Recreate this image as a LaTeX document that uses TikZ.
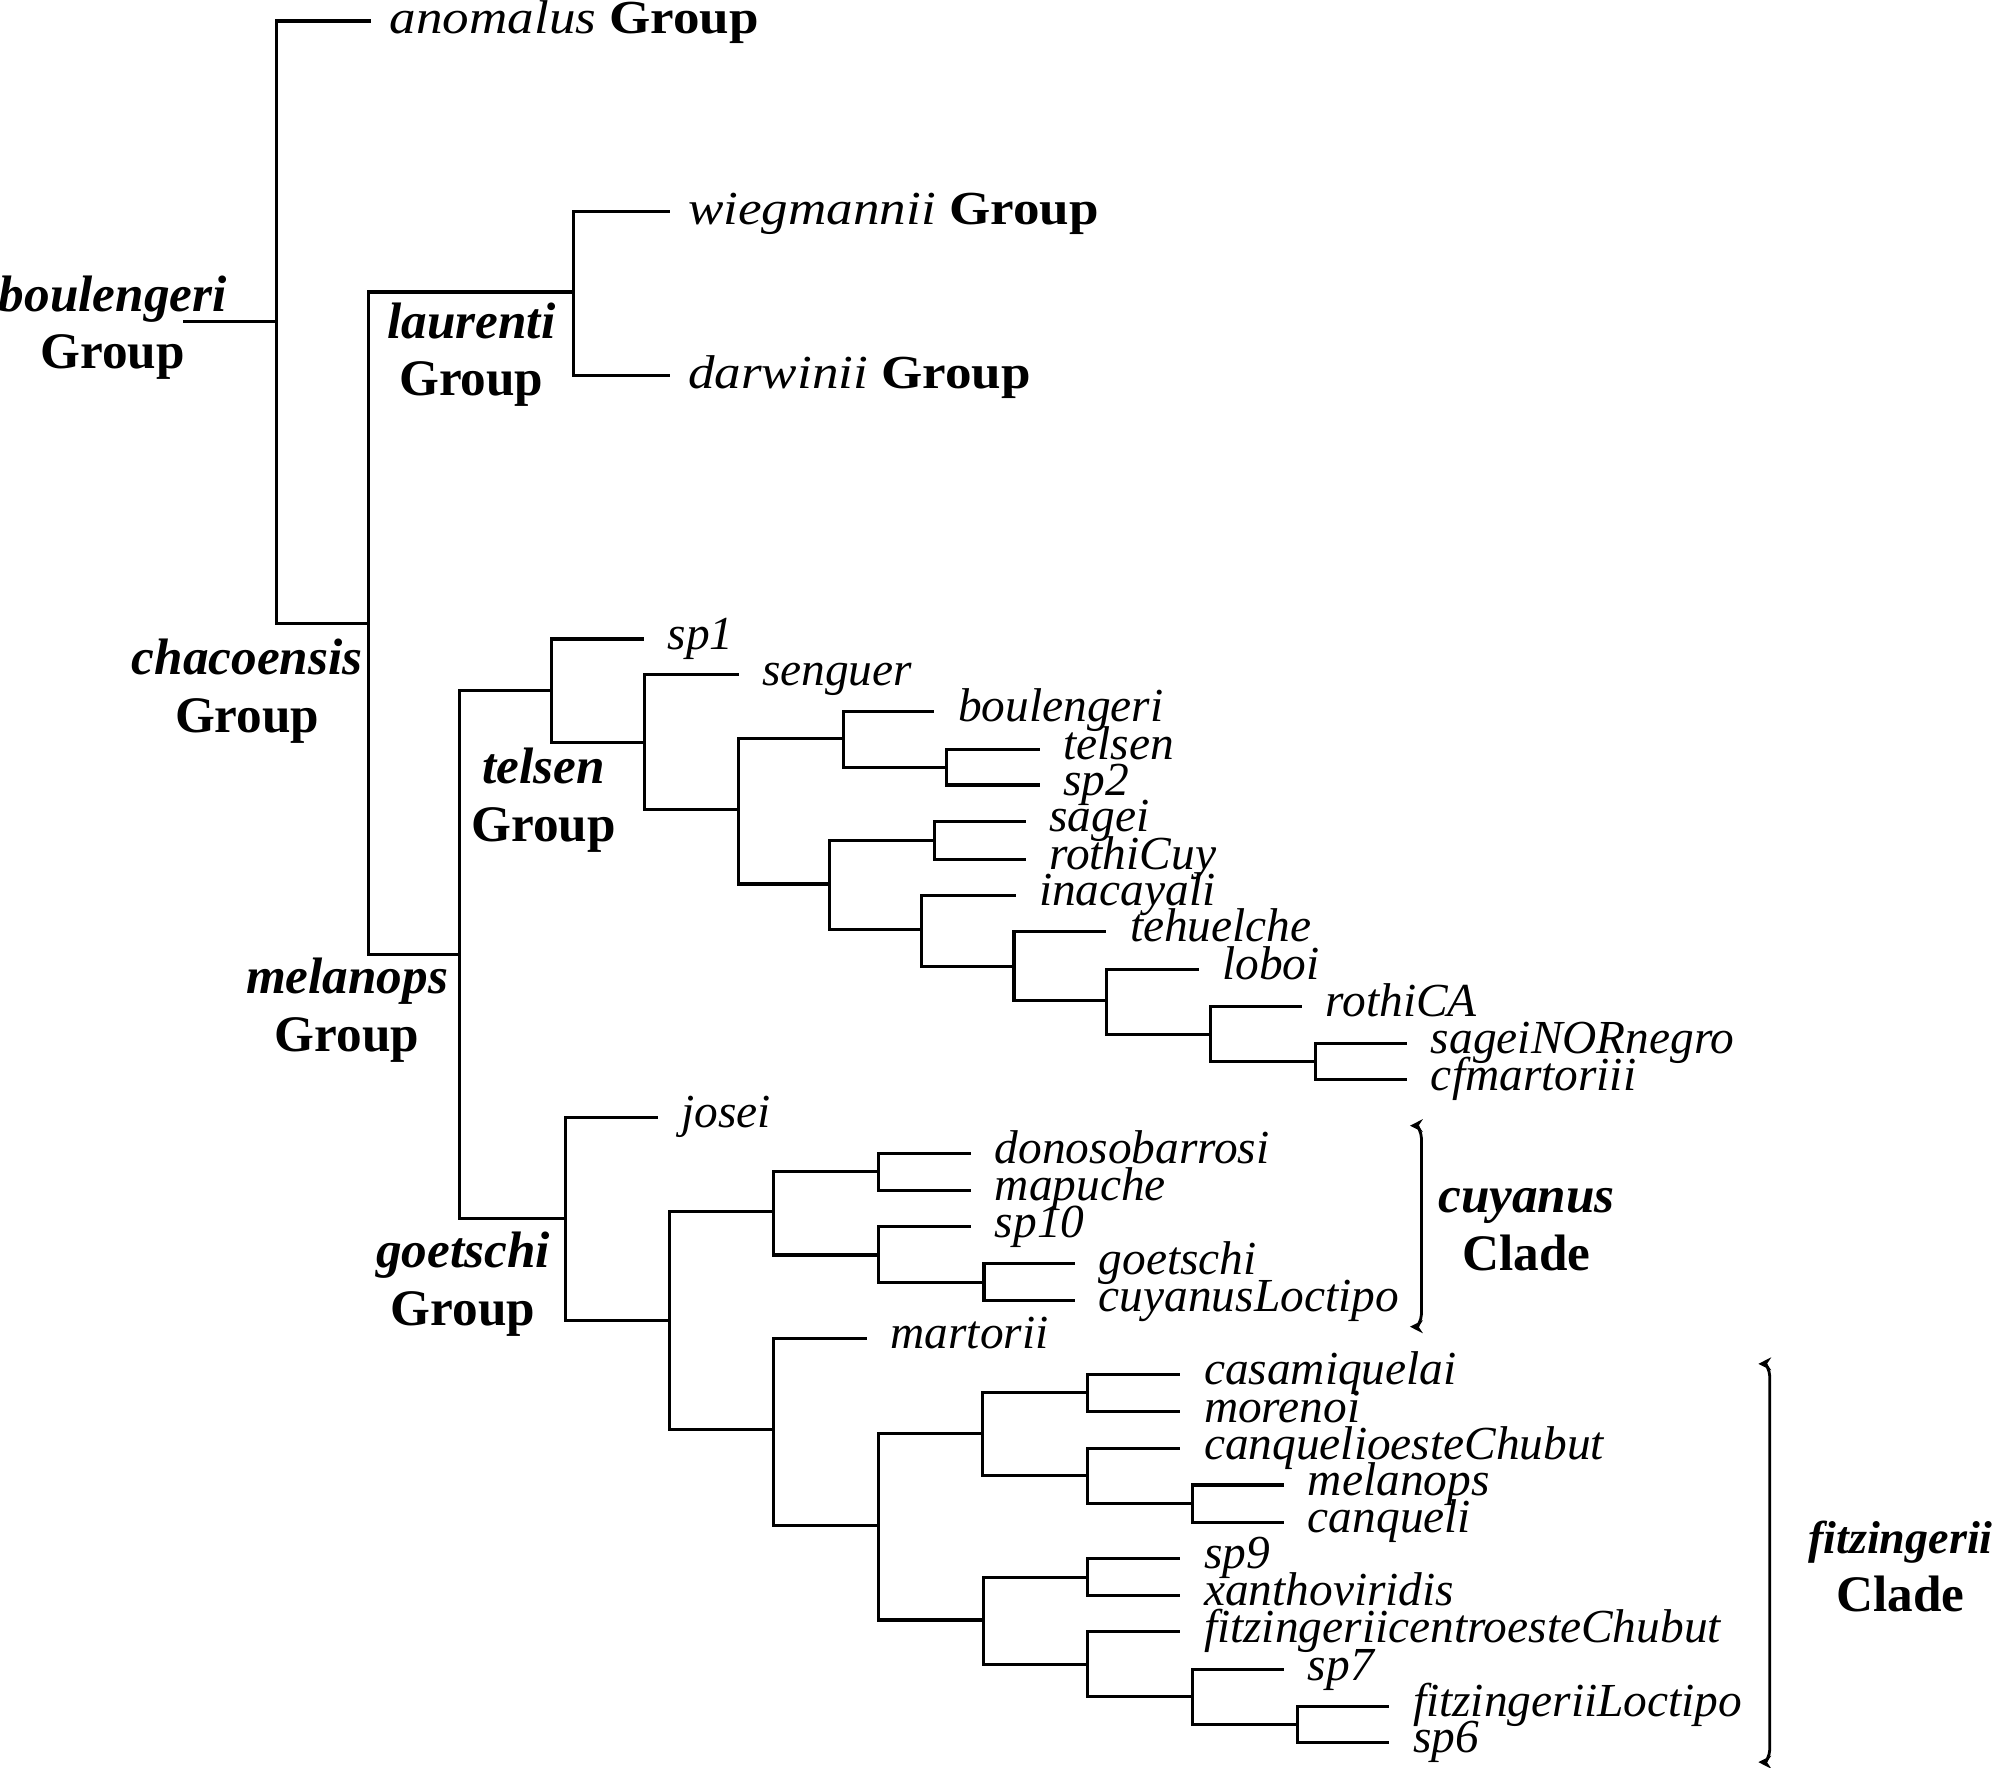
\documentclass[tikz,border=0pt]{standalone}
\usepackage{fontspec}
\setmainfont{Liberation Serif}
\newfontfamily\widefont{Liberation Serif}[FakeStretch=1.12]
\usepackage{tikz}
\usetikzlibrary{arrows.meta, positioning}

\begin{document}
\begin{tikzpicture}[x=0.5pt, y=-0.5pt,
  branch/.style={line width=1.2pt},
  leaf/.style={anchor=west, font=\fontsize{18.5}{20}\selectfont\itshape,
    inner xsep=9pt, inner ysep=0pt, text height=10pt, text depth=2pt},
  toplabel/.style={anchor=west, font=\widefont\fontsize{18.5}{22}\selectfont,
    inner xsep=7pt, inner ysep=0pt, text height=12pt, text depth=2pt},
  grouplabel/.style={anchor=base, align=center, font=\fontsize{20}{22.5}\selectfont\bfseries},
  bracket/.style={line width=1.1pt, {Stealth[length=5pt,width=5pt]}-{Stealth[length=5pt,width=5pt]}}]
  \useasboundingbox (0,0) rectangle (1568,1380);

  % Internal nodes
  \coordinate (rootstub) at (143,251);
  \coordinate (r) at (216,251);
  \coordinate (chaco) at (288,487);
  \coordinate (laur) at (448,228);
  \coordinate (melan) at (358.6,745);
  \coordinate (tels) at (431,539);
  \coordinate (nA) at (503,579.5);
  \coordinate (nB) at (576.7,632);
  \coordinate (nC) at (658.6,577);
  \coordinate (nD) at (739.3,599);
  \coordinate (nE) at (648,690.3);
  \coordinate (nF) at (729.7,656);
  \coordinate (nG) at (719.5,725.5);
  \coordinate (nH) at (791.8,754.7);
  \coordinate (nI) at (864,781);
  \coordinate (nJ) at (945.4,807.6);
  \coordinate (nK) at (1027.3,829);
  \coordinate (goet) at (441.4,951.3);
  \coordinate (nL) at (523,1031);
  \coordinate (nM) at (604,946.3);
  \coordinate (nN) at (686.3,915);
  \coordinate (nO) at (686.3,980);
  \coordinate (nP) at (768.4,1001.5);
  \coordinate (nQ) at (604,1116);
  \coordinate (nR) at (686.3,1191);
  \coordinate (nS) at (767.5,1119.7);
  \coordinate (nT) at (849,1087);
  \coordinate (nU) at (849,1152.3);
  \coordinate (nV) at (931,1174);
  \coordinate (nW) at (768,1265);
  \coordinate (nX) at (849,1232);
  \coordinate (nY) at (849,1299.7);
  \coordinate (nZ) at (931,1325);
  \coordinate (nAA) at (1013.3,1346.5);

  % Top groups
  \node[toplabel] (anomalus) at (290,16.4) {\textit{anomalus} \textbf{Group}};
  \node[toplabel] (wieg) at (523,165) {\textit{wiegmannii} \textbf{Group}};
  \node[toplabel] (darw) at (523,293) {\textit{darwinii} \textbf{Group}};

  % Terminal taxa
  \foreach \name/\x/\y in {sp1/503/499, senguer/576.7/527, boulengeri/729.7/555.6,
      telsen/812/585, sp2/812/613, sagei/801/641.6, rothiCuy/801/671,
      inacayali/793/699.4, tehuelche/864/727.4, loboi/936/757, rothiCA/1017/785.6,
      sageiNORnegro/1099/814.5, cfmartoriii/1099/843.2, josei/513.7/872.3,
      donosobarrosi/758.5/900.5, mapuche/758.5/929.4, sp10/758.5/958,
      goetschi/839.6/986.9, cuyanusLoctipo/839.6/1015.8, martorii/677/1045,
      casamiquelai/921.8/1073.2, morenoi/921.8/1102.4, canquelioesteChubut/921.8/1131.3,
      melanops/1002.9/1159.6, canqueli/1002.9/1188.8, sp9/921.8/1217,
      xanthoviridis/921.8/1245.9, fitzingeriicentroesteChubut/921.8/1274.2,
      sp7/1002.9/1304, fitzingeriiLoctipo/1085/1332.2, sp6/1085/1360.5} {
    \node[leaf] (\name) at (\x,\y) {\name};
  }

  % Branches
  \draw[branch] (rootstub) -- (r);
  \foreach \p/\c in {r/anomalus.west, r/chaco, chaco/laur, chaco/melan,
      laur/wieg.west, laur/darw.west, melan/tels, melan/goet,
      tels/sp1.west, tels/nA, nA/senguer.west, nA/nB, nB/nC, nB/nE,
      nC/boulengeri.west, nC/nD, nD/telsen.west, nD/sp2.west, nE/nF, nE/nG,
      nF/sagei.west, nF/rothiCuy.west, nG/inacayali.west, nG/nH,
      nH/tehuelche.west, nH/nI, nI/loboi.west, nI/nJ, nJ/rothiCA.west, nJ/nK,
      nK/sageiNORnegro.west, nK/cfmartoriii.west,
      goet/josei.west, goet/nL, nL/nM, nL/nQ, nM/nN, nM/nO,
      nN/donosobarrosi.west, nN/mapuche.west, nO/sp10.west, nO/nP,
      nP/goetschi.west, nP/cuyanusLoctipo.west, nQ/martorii.west, nQ/nR,
      nR/nS, nR/nW, nS/nT, nS/nU, nT/casamiquelai.west, nT/morenoi.west,
      nU/canquelioesteChubut.west, nU/nV, nV/melanops.west, nV/canqueli.west,
      nW/nX, nW/nY, nX/sp9.west, nX/xanthoviridis.west,
      nY/fitzingeriicentroesteChubut.west, nY/nZ, nZ/sp7.west, nZ/nAA,
      nAA/fitzingeriiLoctipo.west, nAA/sp6.west} {
    \draw[branch] (\p) |- (\c);
  }

  % Group labels
  \node[grouplabel] (boulengeriGrp) at (88,288) {\textit{boulengeri}\\Group};
  \node[grouplabel] (laurentiGrp) at (368,309) {\textit{laurenti}\\Group};
  \node[grouplabel] (chacoGrp) at (193,572) {\textit{chacoensis}\\Group};
  \node[grouplabel] (telsenGrp) at (424.5,657) {\textit{telsen}\\Group};
  \node[grouplabel] (melanopsGrp) at (271,821) {\textit{melanops}\\Group};
  \node[grouplabel] (goetschiGrp) at (361.5,1035) {\textit{goetschi}\\Group};

  % Clades
  \coordinate (cuyTop) at (1101,879);
  \coordinate (cuyBot) at (1101,1036);
  \draw[bracket] (cuyTop) to[out=0,in=90] (1110,889) -- (1110,1026) to[out=-90,in=0] (cuyBot);
  \node[grouplabel] (cuyanusClade) at (1192,992) {\textit{cuyanus}\\Clade};

  \coordinate (fitzTop) at (1373,1065);
  \coordinate (fitzBot) at (1373,1376);
  \draw[bracket] (fitzTop) to[out=0,in=90] (1382,1075) -- (1382,1366) to[out=-90,in=0] (fitzBot);
  \node[grouplabel] (fitzClade) at (1484,1258) {{\fontsize{18}{22.5}\selectfont\textit{fitzingerii}}\\Clade};
\end{tikzpicture}
\end{document}
